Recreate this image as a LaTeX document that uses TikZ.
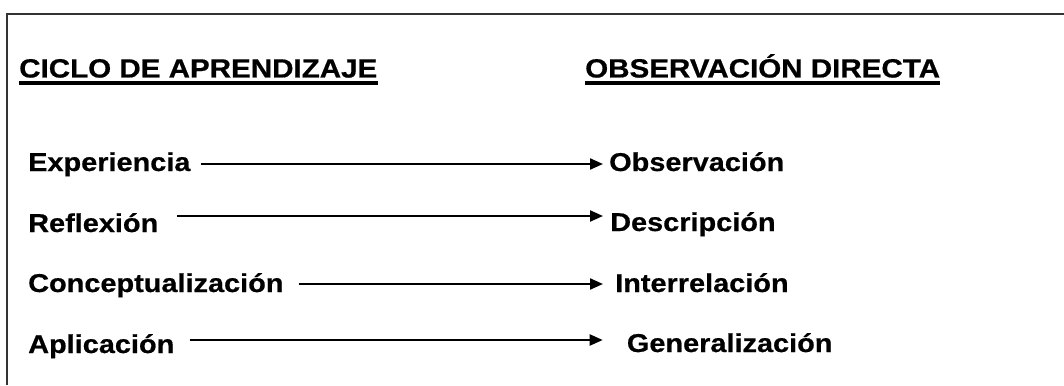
\documentclass[tikz,border=0pt]{standalone}
\usepackage{fontspec}
\usetikzlibrary{arrows.meta}
\newfontfamily\lab[FakeStretch=1.12,FakeBold=0.6]{Liberation Sans Bold}
\begin{document}
\begin{tikzpicture}[x=1pt,y=1pt,
  hdr/.style={anchor=base west, inner sep=0pt, font=\lab\fontsize{26.4}{30}\selectfont},
  lbl/.style={anchor=base west, inner sep=0pt, font=\lab\fontsize{25.8}{30}\selectfont},
  arr/.style={line width=2.2pt, -{Triangle[length=13pt,width=11pt]}},
  uline/.style={line width=3.8pt},
  frame/.style={line width=2pt, draw=black!80}]
\useasboundingbox (0,0) rectangle (1064,-385);
\draw[frame] (1064,-14) -- (7,-14) -- (7,-385);
% headers
\node[hdr] (h1) at (19,-77.5) {CICLO DE APRENDIZAJE};
\node[hdr] (h2) at (585,-77.5) {OBSERVACIÓN DIRECTA};
\draw[uline] ([yshift=-5.5pt]h1.base west) -- ([yshift=-5.5pt]h1.base east);
\draw[uline] ([yshift=-5.5pt]h2.base west) -- ([yshift=-5.5pt]h2.base east);
% left column
\node[lbl] (exp) at (28,-171) {Experiencia};
\node[lbl] (ref) at (28,-232) {Reflexión};
\node[lbl] (con) at (28,-292) {Conceptualización};
\node[lbl] (apl) at (28,-353) {Aplicación};
% right column
\node[lbl] (obs) at (609,-171) {Observación};
\node[lbl] (des) at (610,-231) {Descripción};
\node[lbl] (int) at (615,-292) {Interrelación};
\node[lbl] (gen) at (626.7,-352) {Generalización};
% arrows
\draw[arr] ([shift={(10pt,7pt)}]exp.base east) -- ([shift={(-6pt,7pt)}]obs.base west);
\draw[arr] ([shift={(19pt,16pt)}]ref.base east) -- ([shift={(-7pt,15pt)}]des.base west);
\draw[arr] ([shift={(15pt,8pt)}]con.base east) -- ([shift={(-12pt,8pt)}]int.base west);
\draw[arr] ([shift={(15pt,13pt)}]apl.base east) -- ([shift={(-24pt,12pt)}]gen.base west);
\end{tikzpicture}
\end{document}
